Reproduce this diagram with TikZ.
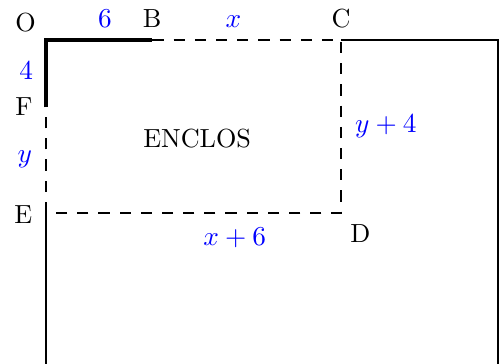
\documentclass[tikz,border=0pt]{standalone}
\usetikzlibrary{positioning}
\tikzset{
    wall/.style={
        line width=1.6pt
    },
    fence/.style={
        line width=0.8pt,
        dash pattern=on 4.5pt off 4pt
    },
    border/.style={
        line width=0.8pt
    },
    point label/.style={
        anchor=base,
        inner sep=0pt
    },
    length label/.style={
        anchor=base,
        inner sep=0pt,
        text=blue
    }
}
\begin{document}
\begin{tikzpicture}[font=\fontsize{10.5pt}{12.6pt}\selectfont]

    \useasboundingbox (-0.649,-4.554) rectangle (6.40,0.564);

    % Corners of the field.
    \coordinate (O) at (0,0);
    \coordinate (B) at (1.50,0);
    \coordinate (C) at (4.16,0);
    \coordinate (F) at (0,-0.95);
    \coordinate (E) at (0,-2.44);
    \coordinate (D) at (4.16,-2.44);
    \coordinate (topright) at (6.37,0);
    \coordinate (bottomright) at (6.37,-4.60);
    \coordinate (bottomleft) at (0,-4.60);

    % Walls, fence and field border.
    \draw[wall] (F) -- (O) -- (B);
    \draw[fence] (B) -- (C) -- (D) -- (E) -- (F);
    \draw[border] (C) -- (topright) -- (bottomright);
    \draw[border] (E) -- (bottomleft);

    % Point names.
    \node[point label] (labO) at (-0.29,0.12) {O};
    \node[point label] (labB) at (1.495,0.18) {B};
    \node[point label] (labC) at (4.16,0.18) {C};
    \node[point label] (labF) at (-0.31,-1.07) {F};
    \node[point label] (labE) at (-0.32,-2.58) {E};
    \node[point label] (labD) at (4.43,-2.85) {D};

    % Lengths.
    \node[length label] (lsix) at (0.83,0.18) {$6$};
    \node[length label] (lx) at (2.64,0.18) {$x$};
    \node[length label] (lfour) at (-0.28,-0.55) {$4$};
    \node[length label] (ly) at (-0.30,-1.73) {$y$};
    \node[length label] (lyfour) at (4.79,-1.31) {$y+4$};
    \node[length label] (lxsix) at (2.66,-2.89) {$x+6$};

    \node[point label] (enclos) at (2.13,-1.52) {ENCLOS};

\end{tikzpicture}
\end{document}
